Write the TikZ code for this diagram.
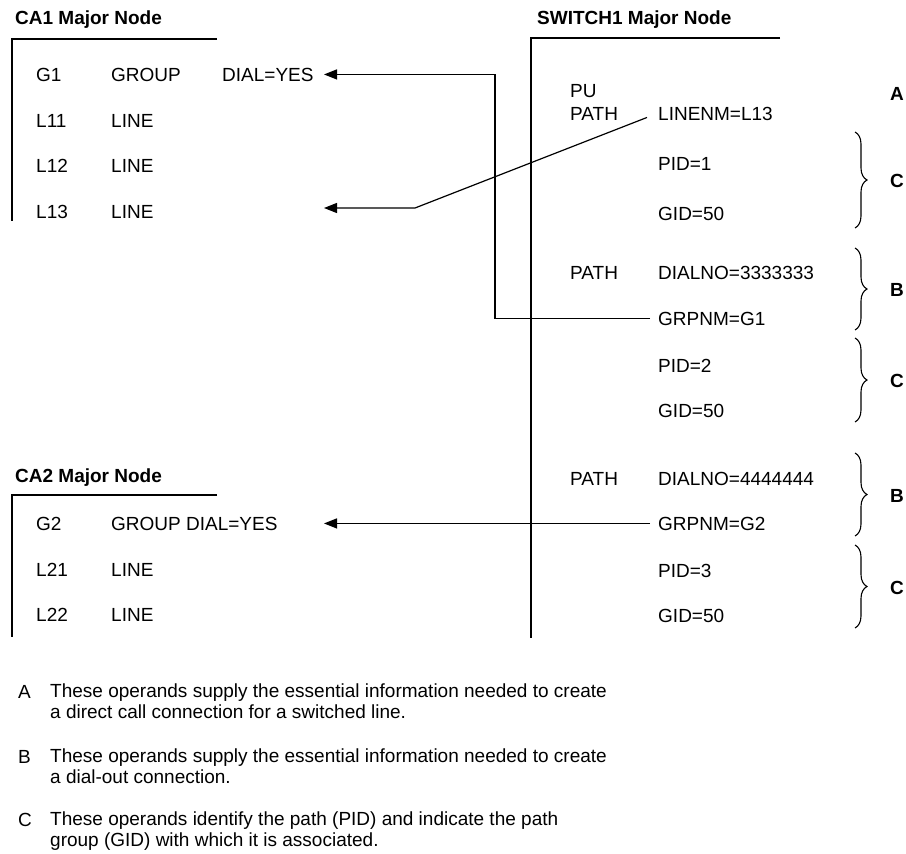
\documentclass[tikz,border=0pt]{standalone}
\usepackage{fontspec}
\setmainfont{Liberation Sans}
\usetikzlibrary{arrows.meta,decorations.pathreplacing}
\begin{document}
\begin{tikzpicture}[x=1pt,y=-1pt,
  txt/.style={anchor=base west,inner sep=0pt,font=\fontsize{19}{23}\selectfont},
  ttl/.style={anchor=base west,inner sep=0pt,font=\fontsize{19}{23}\selectfont\bfseries},
  lbl/.style={anchor=base,inner sep=0pt,font=\fontsize{19}{23}\selectfont\bfseries},
  note/.style={anchor=north west,inner sep=0pt,align=left,font=\fontsize{19}{21}\selectfont},
  ln/.style={line width=1.2pt},
  arr/.style={line width=1.2pt,-{Triangle[length=13pt,width=10pt]}},
  brc/.style={line width=1.1pt,decorate,decoration={brace,amplitude=12pt}}
]
\useasboundingbox (0,0) rectangle (906,854);

% ---------- CA1 ----------
\node[ttl] (ca1t) at (15,24) {CA1 Major Node};
\draw[ln] (217,39) -- (12,39) -- (12,221);
\node[txt] (g1) at (36,81) {G1};
\node[txt] (group1) at (111,81) {GROUP};
\node[txt] (dial1) at (222,81) {DIAL=YES};
\node[txt] (l11) at (36,127) {L11};
\node[txt] (l11l) at (111,127) {LINE};
\node[txt] (l12) at (36,172) {L12};
\node[txt] (l12l) at (111,172) {LINE};
\node[txt] (l13) at (36,218) {L13};
\node[txt] (l13l) at (111,218) {LINE};

% ---------- SWITCH1 ----------
\node[ttl] (swt) at (537,24) {SWITCH1 Major Node};
\draw[ln] (780,38) -- (531,38) -- (531,638);
\node[txt] (pu) at (570,97) {PU};
\node[txt] (path1) at (570,120) {PATH};
\node[txt] (linenm) at (658,120) {LINENM=L13};
\node[txt] (pid1) at (658,170) {PID=1};
\node[txt] (gid1) at (658,220) {GID=50};
\node[txt] (path2) at (570,279) {PATH};
\node[txt] (dialno1) at (658,279) {DIALNO=3333333};
\node[txt] (grpnm1) at (658,325) {GRPNM=G1};
\node[txt] (pid2) at (658,372) {PID=2};
\node[txt] (gid2) at (658,417) {GID=50};
\node[txt] (path3) at (570,485) {PATH};
\node[txt] (dialno2) at (658,485) {DIALNO=4444444};
\node[txt] (grpnm2) at (658,530) {GRPNM=G2};
\node[txt] (pid3) at (658,577) {PID=3};
\node[txt] (gid3) at (658,622) {GID=50};

% braces and labels
\node[lbl] (la) at (897,100) {A};
\draw[brc] (855,132) -- (855,228);
\node[lbl] (lc1) at (897,187) {C};
\draw[brc] (855,248) -- (855,330);
\node[lbl] (lb1) at (897,296) {B};
\draw[brc] (855,338) -- (855,422);
\node[lbl] (lc2) at (897,387) {C};
\draw[brc] (855,453) -- (855,536);
\node[lbl] (lb2) at (897,502) {B};
\draw[brc] (855,545) -- (855,628);
\node[lbl] (lc3) at (897,594) {C};

% ---------- CA2 ----------
\node[ttl] (ca2t) at (15,482) {CA2 Major Node};
\draw[ln] (217,495) -- (12,495) -- (12,637);
\node[txt] (g2) at (36,530) {G2};
\node[txt] (grpdial2) at (111,530) {GROUP DIAL=YES};
\node[txt] (l21) at (36,576) {L21};
\node[txt] (l21l) at (111,576) {LINE};
\node[txt] (l22) at (36,621) {L22};
\node[txt] (l22l) at (111,621) {LINE};

% ---------- connectors ----------
\coordinate (tipx) at (324,0);
\coordinate (jog1) at (495,200);
\coordinate (bend13) at (415,208);
\draw[arr] ([xshift=-8pt]grpnm1.west) -| (jog1) |- (dial1.east -| tipx);
\draw[arr] ([shift={(-11pt,-4pt)}]linenm.west) -- (bend13) -- (bend13 -| tipx);
\draw[arr] ([xshift=-8pt]grpnm2.west) -- (grpnm2.west -| tipx);

% ---------- notes ----------
\node[txt] (na) at (18,698) {A};
\node[note] (ta) at (50,684) {These operands supply the essential information needed to create\\a direct call connection for a switched line.};
\node[txt] (nb) at (18,763) {B};
\node[note] (tb) at (50,749) {These operands supply the essential information needed to create\\a dial-out connection.};
\node[txt] (nc) at (18,826) {C};
\node[note] (tc) at (50,812) {These operands identify the path (PID) and indicate the path\\group (GID) with which it is associated.};
\end{tikzpicture}
\end{document}
